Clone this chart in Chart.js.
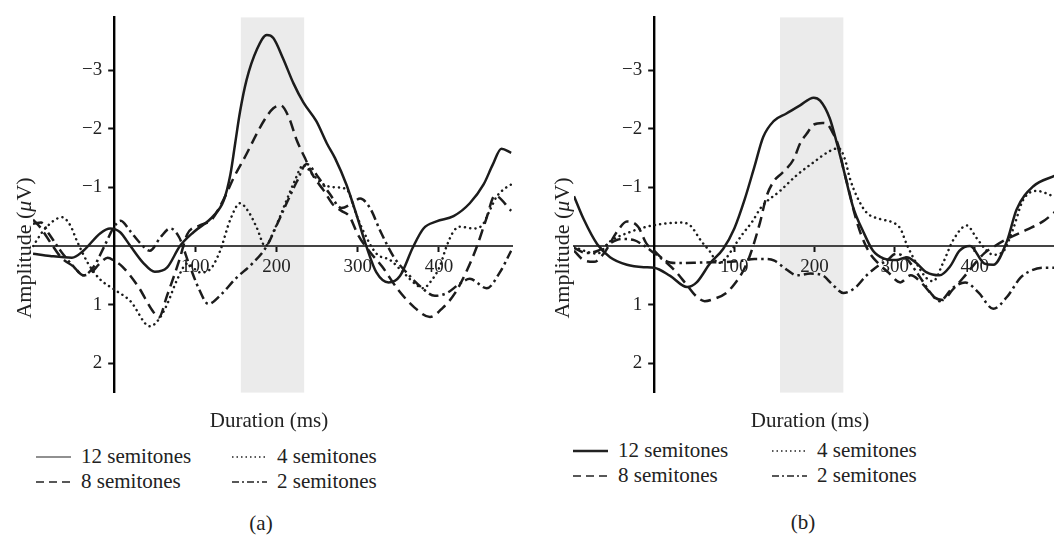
<!DOCTYPE html>
<html>
<head>
<meta charset="utf-8">
<script src="https://cdn.jsdelivr.net/npm/chart.js@4.4.1/dist/chart.umd.min.js"></script>
<style>
  html, body { margin: 0; padding: 0; background: #fff; }
  body { width: 1054px; height: 536px; overflow: hidden; position: relative;
         font-family: "Liberation Serif", "Times New Roman", serif; color: #222; }
  canvas { position: absolute; top: 0; }
  .txt { position: absolute; white-space: nowrap; font-size: 21px; line-height: 24px;
         width: 240px; height: 24px; text-align: center; }
  .ytitle { transform: rotate(-90deg); font-size: 22px; }
  .legend { position: absolute; display: grid; grid-auto-flow: column;
            grid-template-rows: 25px 25px; font-size: 21px; }
  .legend div { display: flex; align-items: center; white-space: nowrap; }
  .legend svg { margin-right: 10px; }
</style>
</head>
<body>
<canvas id="chartA" width="527" height="410" style="left:0"></canvas>
<canvas id="chartB" width="540" height="410" style="left:530px"></canvas>

<div class="txt ytitle" style="left:-96px;top:236px">Amplitude (<i>μ</i>V)</div>
<div class="txt ytitle" style="left:442px;top:236px">Amplitude (<i>μ</i>V)</div>
<div class="txt" style="left:149px;top:408px">Duration (ms)</div>
<div class="txt" style="left:690px;top:408px">Duration (ms)</div>
<div id="legendA" class="legend" style="left:36px;top:444px;grid-template-columns:196px 200px"></div>
<div id="legendB" class="legend" style="left:573px;top:438px;grid-template-columns:199px 200px"></div>
<div class="txt" style="left:141px;top:511px">(a)</div>
<div class="txt" style="left:683px;top:510px">(b)</div>

<script>
// series labels and line styles
var LABELS = ["12 semitones", "8 semitones", "4 semitones", "2 semitones"];
var DASHES = [[], [11, 6], [0.1, 5.2], [10, 4, 2.5, 4]];
var CAPS = ['butt', 'butt', 'round', 'butt'];
var LEGEND_DASHES = [[], [8, 5], [1.5, 3], [7, 3, 2, 3]];

var X_TICKS = [100, 200, 300, 400];
var Y_TICKS = [-3, -2, -1, 1, 2];
var Y_RANGE = [-3.9, 2.5];
var X_RANGE_A = [-100, 490];
var X_RANGE_B = [-100, 500];
var BAND_A = [156, 234];
var BAND_B = [157, 236];

// panel (a)
var a12Ms  = [-100,-79,-52,-38,-17,-5,7,20,36,50,65,81,98,122,135,143,149,155,163,176,188,196,208,221,233,249,262,272,286,299,311,323,338,352,368,381,397,418,438,455,466,477,489];
var a12Amp = [0.13,0.17,0.2,0.08,-0.22,-0.3,-0.24,0,0.29,0.44,0.37,0,-0.24,-0.51,-0.78,-1.21,-1.75,-2.29,-2.83,-3.36,-3.6,-3.55,-3.2,-2.77,-2.45,-2.13,-1.75,-1.5,-1.05,-0.51,0.02,0.45,0.62,0.51,0.02,-0.3,-0.42,-0.51,-0.73,-1.05,-1.38,-1.66,-1.59];

var a8Ms  = [-100,-90,-78,-65,-50,-38,-28,-18,-8,0,10,30,47,55,65,80,90,105,120,135,147,163,175,185,196,205,215,225,235,245,258,270,280,290,300,315,330,350,370,389,405,420,435,447,458,469,489];
var a8Amp = [-0.45,-0.3,-0.05,0.2,0.35,0.5,0.45,0.3,0.2,0.25,0.35,0.7,1.1,1.22,0.85,0.25,-0.2,-0.35,-0.45,-0.8,-1.16,-1.57,-1.9,-2.15,-2.35,-2.4,-2.2,-1.8,-1.5,-1.2,-0.95,-0.7,-0.6,-0.5,-0.2,0.1,0.35,0.75,1.05,1.21,1.05,0.8,0.4,0.0,-0.45,-0.86,-0.6];

var a4Ms  = [-100,-85,-64,-54,-46,-32,-18,0,20,44,55,65,78,90,106,118,130,143,155,167,176,186,198,210,222,233,245,258,274,286,299,307,323,340,356,373,381,389,401,409,418,426,442,453,463,471,483,489];
var a4Amp = [0.0,-0.3,-0.49,-0.35,-0.09,0.3,0.56,0.74,0.94,1.37,1.25,1.0,0.56,0.3,0.45,0.4,0.1,-0.45,-0.73,-0.55,-0.3,0.0,-0.3,-0.7,-1.1,-1.38,-1.21,-1.05,-1.0,-0.97,-0.51,-0.25,0.13,0.24,0.45,0.67,0.72,0.62,0.35,0.02,-0.25,-0.33,-0.3,-0.35,-0.62,-0.84,-1.0,-1.05];

var a2Ms  = [-100,-90,-80,-65,-50,-38,-25,-12,0,8,20,32,44,57,69,80,92,105,116,130,150,170,188,200,213,225,237,250,265,280,292,303,315,328,345,360,378,395,410,425,438,459,475,489];
var a2Amp = [-0.38,-0.4,-0.2,0.1,0.35,0.5,0.35,0.0,-0.33,-0.43,-0.25,-0.05,0.08,-0.15,-0.3,-0.15,0.3,0.75,0.99,0.85,0.55,0.3,0.0,-0.35,-0.75,-1.1,-1.4,-1.2,-0.9,-0.65,-0.72,-0.81,-0.65,-0.25,0.2,0.45,0.7,0.85,0.8,0.65,0.56,0.72,0.45,0.08];

// panel (b)
var b12Ms  = [-100,-88,-71,-55,-34,-13,0,20,41,53,70,86,100,113,125,136,149,165,182,199,207,219,228,236,248,261,273,286,302,315,327,340,356,369,381,394,412,423,440,452,473,500];
var b12Amp = [-0.85,-0.46,-0.03,0.19,0.32,0.36,0.37,0.51,0.7,0.62,0.29,0.05,-0.3,-0.8,-1.35,-1.86,-2.13,-2.26,-2.4,-2.53,-2.48,-2.18,-1.75,-1.32,-0.67,-0.24,0.08,0.21,0.24,0.19,0.29,0.45,0.5,0.35,0.08,0.0,0.3,0.32,-0.08,-0.62,-1.02,-1.2];

var b8Ms  = [-100,-88,-75,-63,-46,-34,-20,-10,0,12,28,41,52,63,75,90,100,112,120,132,140,149,160,174,182,190,199,210,216,222,230,236,243,250,258,268,280,292,307,320,335,350,360,372,385,400,412,425,440,465,485,500];
var b8Amp = [0.08,0.24,0.27,0.13,-0.25,-0.42,-0.33,-0.05,0.08,0.24,0.45,0.67,0.85,0.94,0.9,0.8,0.65,0.4,0.14,-0.4,-0.84,-1.1,-1.25,-1.48,-1.75,-1.91,-2.07,-2.1,-2.08,-1.95,-1.7,-1.32,-0.95,-0.55,-0.2,0.1,0.3,0.45,0.62,0.5,0.65,0.88,0.92,0.75,0.55,0.3,0.12,0.0,-0.12,-0.28,-0.42,-0.58];

var b4Ms  = [-100,-71,-55,-30,-9,12,34,45,59,70,80,90,100,110,122,134,157,178,199,219,230,238,244,253,265,282,298,307,315,327,340,348,360,373,390,402,415,423,435,448,460,477,500];
var b4Amp = [0.02,0.13,-0.08,-0.24,-0.33,-0.38,-0.4,-0.35,-0.08,0.1,0.29,0.2,0.0,-0.2,-0.41,-0.67,-0.94,-1.21,-1.43,-1.62,-1.67,-1.48,-1.16,-0.84,-0.57,-0.46,-0.4,-0.3,-0.03,0.29,0.55,0.6,0.3,-0.1,-0.35,-0.14,0.08,0.15,0.1,-0.3,-0.78,-0.94,-0.84];

var b2Ms  = [-100,-85,-70,-55,-40,-25,-12,0,10,20,30,60,95,110,125,140,150,165,178,195,210,222,236,250,265,280,290,302,315,330,345,356,372,388,405,423,440,457,470,485,500];
var b2Amp = [0.03,0.12,0.08,-0.05,-0.12,-0.1,0.0,0.12,0.22,0.28,0.29,0.28,0.27,0.25,0.22,0.22,0.25,0.4,0.5,0.47,0.5,0.65,0.8,0.72,0.5,0.33,0.25,0.13,0.22,0.5,0.8,0.94,0.72,0.62,0.8,1.07,0.87,0.54,0.42,0.37,0.37];

function toPoints(ms, amp) {
  return ms.map(function(x, i) { return {x: x, y: amp[i]}; });
}

// shaded window, drawn before the axes so the zero line stays on top
var bandPlugin = {
  id: 'band',
  beforeDraw: function(chart, args, opts) {
    var x = chart.scales.x, area = chart.chartArea, ctx = chart.ctx;
    var x0 = x.getPixelForValue(opts.range[0]);
    var x1 = x.getPixelForValue(opts.range[1]);
    ctx.save();
    ctx.fillStyle = '#ebebeb';
    ctx.fillRect(x0, area.top, x1 - x0, area.bottom - area.top);
    ctx.restore();
  }
};

// put the y axis on x = 0 (with its labels kept clear of the axis line)
var crossPlugin = {
  id: 'crossAxis',
  afterLayout: function(chart) {
    var y = chart.scales.y;
    var px = chart.scales.x.getPixelForValue(0);
    y.left = px - 70;
    y.right = px;
    y.width = 70;
  }
};

var tickFont = {family: '"Liberation Serif", "Times New Roman", serif', size: 19};

function makePanel(id, xRange, band, padLeft, series) {
  var datasets = series.map(function(s, i) {
    return {
      label: LABELS[i],
      data: toPoints(s[0], s[1]),
      borderColor: '#1c1c1c',
      borderWidth: 2.5,
      borderDash: DASHES[i],
      borderCapStyle: CAPS[i],
      pointRadius: 0,
      cubicInterpolationMode: 'monotone',
      fill: false
    };
  });

  return new Chart(document.getElementById(id), {
    type: 'line',
    data: { datasets: datasets },
    plugins: [bandPlugin, crossPlugin],
    options: {
      responsive: false,
      animation: false,
      devicePixelRatio: 1,
      layout: { padding: { left: padLeft, right: 15, top: 7, bottom: 7 } },
      plugins: {
        legend: { display: false },
        tooltip: { enabled: false },
        band: { range: band }
      },
      scales: {
        x: {
          type: 'linear',
          position: { y: 0 },
          min: xRange[0],
          max: xRange[1],
          afterFit: function(s) { s.height = 0; },
          afterBuildTicks: function(s) {
            s.ticks = X_TICKS.map(function(v) { return {value: v}; });
          },
          border: { display: true, color: '#444', width: 2 },
          grid: { drawOnChartArea: false, drawTicks: true, tickLength: 5, tickWidth: 2, tickColor: '#111' },
          ticks: { autoSkip: false, maxRotation: 0, padding: 5, color: '#222', font: tickFont }
        },
        y: {
          type: 'linear',
          position: 'left',
          reverse: true,
          min: Y_RANGE[0],
          max: Y_RANGE[1],
          afterFit: function(s) { s.width = 0; },
          afterBuildTicks: function(s) {
            s.ticks = Y_TICKS.map(function(v) { return {value: v}; });
          },
          border: { display: true, color: '#000', width: 2.4 },
          grid: { drawOnChartArea: false, drawTicks: true, tickLength: 6, tickWidth: 2, tickColor: '#111' },
          ticks: {
            padding: 6, color: '#222', font: tickFont,
            callback: function(v) { return v < 0 ? '\u2212' + Math.abs(v) : String(v); }
          }
        }
      }
    }
  });
}

// legend in two columns: 12 / 8 then 4 / 2
function buildLegend(chart, el, solidWidth) {
  chart.data.datasets.forEach(function(ds, i) {
    var item = document.createElement('div');
    var dash = LEGEND_DASHES[i].length ? ' stroke-dasharray="' + LEGEND_DASHES[i].join(' ') + '"' : '';
    var w = i === 0 ? solidWidth : 1.5;
    item.innerHTML = '<svg width="35" height="6"><line x1="0" y1="3" x2="35" y2="3" stroke="#222" stroke-width="' + w + '"' +
      dash + '/></svg><span>' + ds.label + '</span>';
    el.appendChild(item);
  });
}

var chartA = makePanel('chartA', X_RANGE_A, BAND_A, 33,
  [[a12Ms, a12Amp], [a8Ms, a8Amp], [a4Ms, a4Amp], [a2Ms, a2Amp]]);
var chartB = makePanel('chartB', X_RANGE_B, BAND_B, 44,
  [[b12Ms, b12Amp], [b8Ms, b8Amp], [b4Ms, b4Amp], [b2Ms, b2Amp]]);

buildLegend(chartA, document.getElementById('legendA'), 1.2);
buildLegend(chartB, document.getElementById('legendB'), 2.6);
</script>
</body>
</html>
